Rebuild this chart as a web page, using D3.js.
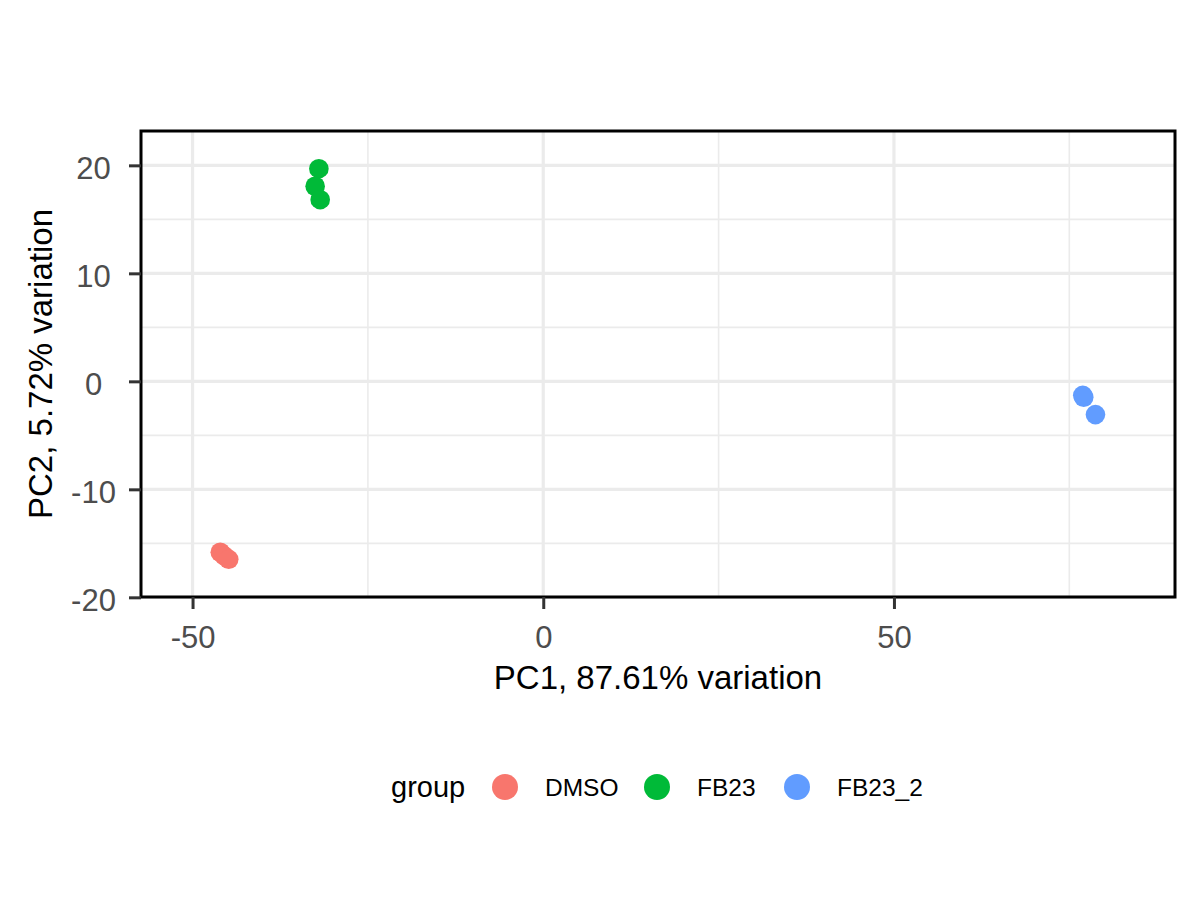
<!DOCTYPE html>
<html>
<head>
<meta charset="utf-8">
<script src="https://cdn.jsdelivr.net/npm/d3@7"></script>
<style>
  body { margin: 0; background: #fff; }
  svg { display: block; font-family: "Liberation Sans", Arial, sans-serif; }
</style>
</head>
<body>
<div id="app"></div>
<script>
// PCA scores
const groups = ["DMSO", "FB23", "FB23_2"];
const colors = ["#F8766D", "#00BA38", "#619CFF"];
const pc1 = [-46.05, -45.48, -44.84, -31.99, -32.52, -31.80, 76.92, 77.06, 78.73];
const pc2 = [-15.83, -16.16, -16.48, 19.69, 18.06, 16.82, -1.30, -1.48, -3.08];
const sampleGroup = ["DMSO", "DMSO", "DMSO", "FB23", "FB23", "FB23", "FB23_2", "FB23_2", "FB23_2"];
const xTicks = [-50, 0, 50];
const xMinor = [-25, 25, 75];
const yTicks = [-20, -10, 0, 10, 20];
const yMinor = [-15, -5, 5, 15];

const data = pc1.map((d, i) => ({x: d, y: pc2[i], g: sampleGroup[i]}));

const width = 1200, height = 900;
const marginLeft = 141, marginRight = 25, marginTop = 131, marginBottom = 303;

const x = d3.scaleLinear()
  .domain([-57.35, 90.07])
  .range([marginLeft, width - marginRight]);
const y = d3.scaleLinear()
  .domain([-19.97, 23.18])
  .range([height - marginBottom, marginTop]);
const color = d3.scaleOrdinal().domain(groups).range(colors);

const svg = d3.select("#app").append("svg")
  .attr("width", width).attr("height", height)
  .attr("viewBox", [0, 0, width, height]);

// 网格线
const grid = svg.append("g").attr("stroke", "#ebebeb");
grid.selectAll(".xmin").data(xMinor).join("line")
  .attr("x1", d => x(d)).attr("x2", d => x(d))
  .attr("y1", marginTop).attr("y2", height - marginBottom)
  .attr("stroke-width", 1.6);
grid.selectAll(".ymin").data(yMinor).join("line")
  .attr("y1", d => y(d)).attr("y2", d => y(d))
  .attr("x1", marginLeft).attr("x2", width - marginRight)
  .attr("stroke-width", 1.6);
grid.selectAll(".xmaj").data(xTicks).join("line")
  .attr("x1", d => x(d)).attr("x2", d => x(d))
  .attr("y1", marginTop).attr("y2", height - marginBottom)
  .attr("stroke-width", 3.2);
grid.selectAll(".ymaj").data(yTicks).join("line")
  .attr("y1", d => y(d)).attr("y2", d => y(d))
  .attr("x1", marginLeft).attr("x2", width - marginRight)
  .attr("stroke-width", 3.2);

// 点
svg.append("g")
  .selectAll("circle")
  .data(data)
  .join("circle")
    .attr("cx", d => x(d.x))
    .attr("cy", d => y(d.y))
    .attr("r", 9.8)
    .attr("fill", d => color(d.g));

// 边框
svg.append("rect")
  .attr("x", marginLeft).attr("y", marginTop)
  .attr("width", width - marginRight - marginLeft)
  .attr("height", height - marginBottom - marginTop)
  .attr("fill", "none").attr("stroke", "#000").attr("stroke-width", 3);

// 坐标轴 (plain hyphen for negatives, like R)
const fmt = d => String(d);

svg.append("g")
  .attr("transform", `translate(0,${height - marginBottom})`)
  .call(d3.axisBottom(x).tickValues(xTicks).tickSize(12).tickPadding(17).tickFormat(fmt))
  .call(g => g.select(".domain").remove())
  .call(g => g.selectAll(".tick line").attr("stroke", "#333").attr("stroke-width", 3))
  .call(g => g.selectAll(".tick text").attr("fill", "#4d4d4d").attr("font-size", 31)
    .attr("font-family", "Liberation Sans, Arial, sans-serif"));

// y labels are centred on a column, as in the original
svg.append("g")
  .attr("transform", `translate(${marginLeft},0)`)
  .call(d3.axisLeft(y).tickValues(yTicks).tickSize(12).tickFormat(fmt))
  .call(g => g.select(".domain").remove())
  .call(g => g.selectAll(".tick line").attr("stroke", "#333").attr("stroke-width", 3))
  .call(g => g.selectAll(".tick text").attr("fill", "#4d4d4d").attr("font-size", 31)
    .attr("x", -47.5)
    .attr("text-anchor", "middle")
    .attr("dy", "0.42em")
    .attr("font-family", "Liberation Sans, Arial, sans-serif"));

// 轴标题
svg.append("text")
  .attr("x", (marginLeft + width - marginRight) / 2)
  .attr("y", 689)
  .attr("text-anchor", "middle")
  .attr("font-size", 33)
  .text("PC1, 87.61% variation");

svg.append("text")
  .attr("transform", `translate(52,${(marginTop + height - marginBottom) / 2}) rotate(-90)`)
  .attr("text-anchor", "middle")
  .attr("font-size", 33)
  .text("PC2, 5.72% variation");

// 图例
const legend = svg.append("g").attr("transform", "translate(0,787)");
legend.append("text")
  .attr("x", 391).attr("y", 10)
  .attr("font-size", 29)
  .text("group");
const legendX = [505, 657, 797];
const item = legend.selectAll(".item")
  .data(groups)
  .join("g")
    .attr("transform", (d, i) => `translate(${legendX[i]},0)`);
item.append("circle")
  .attr("r", 13)
  .attr("fill", d => color(d));
item.append("text")
  .attr("x", 40).attr("y", 9)
  .attr("font-size", 24.5)
  .text(d => d);
</script>
</body>
</html>
